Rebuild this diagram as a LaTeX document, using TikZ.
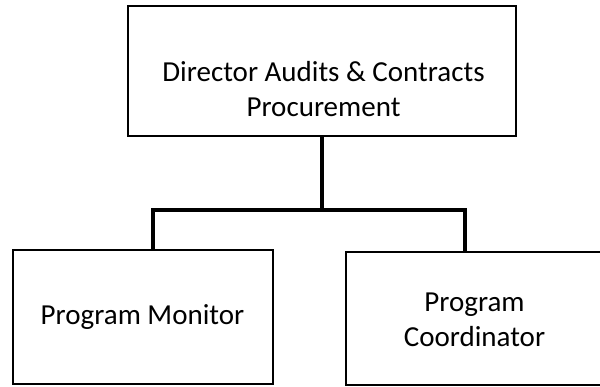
\documentclass[tikz,border=0pt]{standalone}
\usepackage{fontspec}
\setmainfont{Carlito}
\begin{document}
\begin{tikzpicture}[x=1pt,y=-1pt,
  box/.style={draw=black, line width=2pt, fill=none, inner sep=0pt},
  lbl/.style={font=\fontsize{29}{35}\selectfont, align=center, inner sep=0pt, anchor=base},
  conn/.style={draw=black, line width=3.4pt}]
\useasboundingbox (0,0) rectangle (600,387);
% boxes
\node[box, minimum width=388pt, minimum height=130pt] (top) at (322,71) {};
\node[box, minimum width=260pt, minimum height=134pt] (left) at (143,317) {};
\node[box, minimum width=258pt, minimum height=133.5pt] (right) at (475,318.75) {};
% labels (base = baseline of last line)
\node[lbl] (topT) at (323.5,117) {Director Audits \& Contracts\\Procurement};
\node[lbl] (leftT) at (142.5,325) {Program Monitor};
\node[lbl] (rightT) at (474.5,346.7) {Program\\Coordinator};
% connectors
\coordinate (jL) at (153,210);
\coordinate (jR) at (465,210);
\coordinate (jM) at (top.south |- jL);
\draw[conn] (top.south) -- (jM);
\draw[conn] ([xshift=-1.7pt]jL) -- ([xshift=1.7pt]jR);
\draw[conn] ([yshift=-1.7pt]jL) -- (jL |- left.north);
\draw[conn] ([yshift=-1.7pt]jR) -- (jR |- right.north);
\end{tikzpicture}
\end{document}
